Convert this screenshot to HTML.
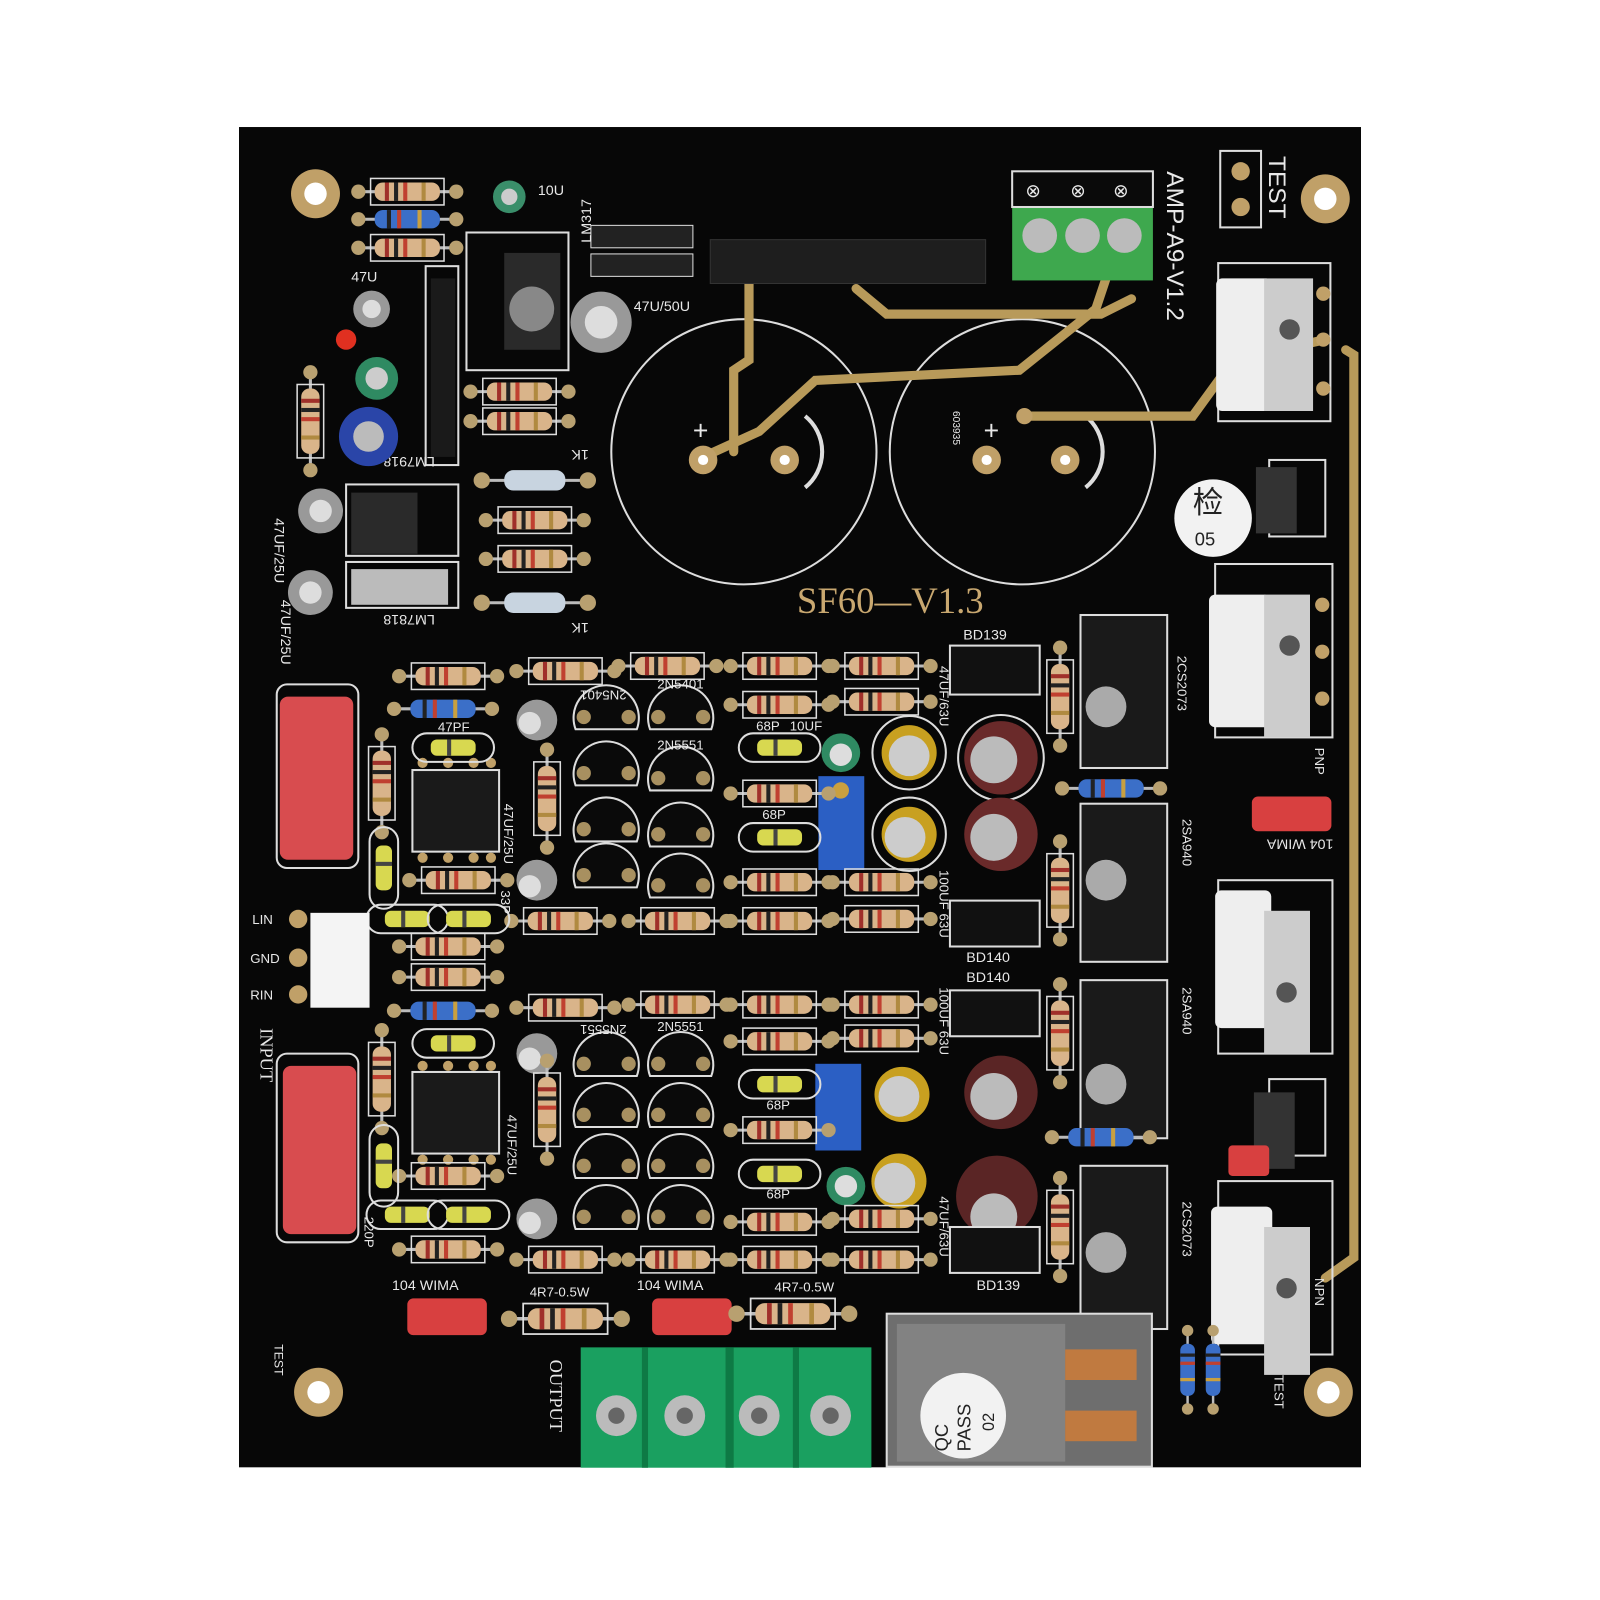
<!DOCTYPE html>
<html><head><meta charset="utf-8">
<style>
html,body{margin:0;padding:0;background:#fff;}
svg{display:block;}
text{font-family:"Liberation Sans",sans-serif;fill:#e8e8e8;}
</style></head>
<body>
<svg width="1600" height="1600" viewBox="0 0 1600 1600" xmlns="http://www.w3.org/2000/svg">
<defs>
  <g id="res">
    <line x1="-48" y1="0" x2="48" y2="0" stroke="#bbb" stroke-width="3"/>
    <circle cx="-48" cy="0" r="7" fill="#b8a070"/><circle cx="48" cy="0" r="7" fill="#b8a070"/>
    <rect x="-32" y="-9" width="64" height="18" rx="8" fill="#d9b48a"/>
    <rect x="-22" y="-9" width="4" height="18" fill="#a0302a"/>
    <rect x="-13" y="-9" width="4" height="18" fill="#222"/>
    <rect x="-4" y="-9" width="4" height="18" fill="#c04030"/>
    <rect x="14" y="-9" width="4" height="18" fill="#b08a40"/>
    <rect x="-36" y="-13" width="72" height="26" fill="none" stroke="#ddd" stroke-width="1.5"/>
  </g>
  <g id="resb">
    <line x1="-48" y1="0" x2="48" y2="0" stroke="#bbb" stroke-width="3"/>
    <circle cx="-48" cy="0" r="7" fill="#b8a070"/><circle cx="48" cy="0" r="7" fill="#b8a070"/>
    <rect x="-32" y="-9" width="64" height="18" rx="8" fill="#3b6fc8"/>
    <rect x="-20" y="-9" width="4" height="18" fill="#222"/>
    <rect x="-10" y="-9" width="4" height="18" fill="#c04030"/>
    <rect x="10" y="-9" width="4" height="18" fill="#c9a040"/>
  </g>
  <g id="resw">
    <line x1="-50" y1="0" x2="50" y2="0" stroke="#bbb" stroke-width="3"/>
    <circle cx="-52" cy="0" r="8" fill="#b8a070"/><circle cx="52" cy="0" r="8" fill="#b8a070"/>
    <rect x="-30" y="-10" width="60" height="20" rx="9" fill="#c8d4e0"/>
  </g>
  <g id="cer">
    <rect x="-40" y="-14" width="80" height="28" rx="14" fill="none" stroke="#ddd" stroke-width="2"/>
    <rect x="-22" y="-8" width="44" height="16" rx="6" fill="#d8d850"/>
    <rect x="-6" y="-8" width="4" height="16" fill="#444"/>
  </g>
  <g id="to92">
    <path d="M-30 12 A32 32 0 1 1 30 12 Z" fill="#0a0a0a" stroke="#ddd" stroke-width="2"/>
    <circle cx="-22" cy="0" r="7" fill="#a89060"/><circle cx="22" cy="0" r="7" fill="#a89060"/>
  </g>
  <g id="hole">
    <circle r="24" fill="#c0a068"/><circle r="11" fill="#fff"/>
  </g>
</defs>

<rect width="1600" height="1600" fill="#fff"/>
<g transform="matrix(1.02 0 0 1.02 -0.7 3)">
<!-- board -->
<rect x="235" y="121.6" width="1100" height="1314" fill="#070707"/>

<use href="#hole" x="310" y="187"/>
<use href="#hole" x="1300" y="192"/>
<use href="#hole" x="313" y="1362"/>
<use href="#hole" x="1303" y="1362"/>

<!-- big cap outlines -->
<circle cx="730" cy="440" r="130" fill="none" stroke="#ddd" stroke-width="2"/>
<circle cx="1003" cy="440" r="130" fill="none" stroke="#ddd" stroke-width="2"/>
<path d="M790 405 A45 45 0 0 1 790 475" fill="none" stroke="#ddd" stroke-width="4"/>
<path d="M1065 405 A45 45 0 0 1 1065 475" fill="none" stroke="#ddd" stroke-width="4"/>
<text x="965" y="428" font-size="26">+</text>
<text x="680" y="428" font-size="26">+</text>

<!-- gold traces -->
<g stroke="#b89a5a" stroke-width="9" fill="none" stroke-linecap="round">
  <path d="M735 275 V350 L720 360 V440"/>
  <path d="M690 445 L745 420 L800 370 L1000 360 L1075 300 L1085 270"/>
  <path d="M840 280 L870 305 L1080 305 L1110 290"/>
  <path d="M1005 405 L1170 405 L1210 350 L1300 330"/>
  <path d="M1320 340 L1328 345 V1230 L1300 1250"/>
</g>
<circle cx="690" cy="448" r="14" fill="#c0a068"/><circle cx="690" cy="448" r="5" fill="#fff"/>
<circle cx="770" cy="448" r="14" fill="#c0a068"/><circle cx="770" cy="448" r="5" fill="#fff"/>
<circle cx="968" cy="448" r="14" fill="#c0a068"/><circle cx="968" cy="448" r="5" fill="#fff"/>
<circle cx="1045" cy="448" r="14" fill="#c0a068"/><circle cx="1045" cy="448" r="5" fill="#fff"/>
<circle cx="1005" cy="405" r="8" fill="#c0a068"/>

<!-- heatsink bar -->
<rect x="697" y="232" width="270" height="43" fill="#1e1e1e" stroke="#333"/>
<!-- green terminal top -->
<rect x="993" y="200" width="138" height="72" fill="#3ea84e"/>
<rect x="993" y="165" width="138" height="35" fill="#0a0a0a" stroke="#ddd" stroke-width="2"/>
<circle cx="1020" cy="228" r="17" fill="#bbb"/><circle cx="1062" cy="228" r="17" fill="#bbb"/><circle cx="1103" cy="228" r="17" fill="#bbb"/>
<text x="1006" y="190" font-size="18">⊗</text><text x="1050" y="190" font-size="18">⊗</text><text x="1092" y="190" font-size="18">⊗</text>

<!-- TEST top right -->
<rect x="1197" y="145" width="40" height="75" fill="none" stroke="#ddd" stroke-width="2"/>
<circle cx="1217" cy="165" r="9" fill="#c0a068"/><circle cx="1217" cy="200" r="9" fill="#c0a068"/>
<text font-size="24" transform="translate(1245,150) rotate(90)">TEST</text>
<text font-size="24" transform="translate(1145,165) rotate(90)">AMP-A9-V1.2</text>

<!-- power transistors right -->
<g>
  <rect x="1195" y="255" width="110" height="155" fill="none" stroke="#ddd" stroke-width="2"/>
  <rect x="1193" y="270" width="55" height="130" rx="6" fill="#eee"/>
  <rect x="1240" y="270" width="48" height="130" fill="#ccc"/>
  <circle cx="1265" cy="320" r="10" fill="#555"/>
  <circle cx="1298" cy="285" r="7" fill="#c0a068"/><circle cx="1298" cy="330" r="7" fill="#c0a068"/><circle cx="1298" cy="378" r="7" fill="#c0a068"/>
</g>
<g>
  <rect x="1192" y="550" width="115" height="170" fill="none" stroke="#ddd" stroke-width="2"/>
  <rect x="1186" y="580" width="60" height="130" rx="6" fill="#eee"/>
  <rect x="1240" y="580" width="45" height="140" fill="#ccc"/>
  <circle cx="1265" cy="630" r="10" fill="#555"/>
  <circle cx="1297" cy="590" r="7" fill="#c0a068"/><circle cx="1297" cy="636" r="7" fill="#c0a068"/><circle cx="1297" cy="682" r="7" fill="#c0a068"/>
</g>
<g>
  <rect x="1195" y="860" width="112" height="170" fill="none" stroke="#ddd" stroke-width="2"/>
  <rect x="1192" y="870" width="55" height="135" rx="6" fill="#eee"/>
  <rect x="1240" y="890" width="45" height="140" fill="#ccc"/>
  <circle cx="1262" cy="970" r="10" fill="#555"/>
</g>
<g>
  <rect x="1195" y="1155" width="112" height="170" fill="none" stroke="#ddd" stroke-width="2"/>
  <rect x="1188" y="1180" width="60" height="135" rx="6" fill="#eee"/>
  <rect x="1240" y="1200" width="45" height="145" fill="#ccc"/>
  <circle cx="1262" cy="1260" r="10" fill="#555"/>
</g>
<!-- small TO-126 right -->
<rect x="1245" y="448" width="55" height="75" fill="none" stroke="#ddd" stroke-width="2"/>
<rect x="1232" y="455" width="40" height="65" fill="#333"/>
<rect x="1245" y="1055" width="55" height="75" fill="none" stroke="#ddd" stroke-width="2"/>
<rect x="1230" y="1068" width="40" height="75" fill="#333"/>
<!-- inspection sticker -->
<circle cx="1190" cy="505" r="38" fill="#f2f2f2"/>
<text x="1170" y="500" font-size="30" style="fill:#222;font-family:'Noto Sans CJK SC',sans-serif">检</text>
<text x="1172" y="532" font-size="18" style="fill:#222">05</text>

<text x="782" y="598" font-size="36" style="fill:#c9a870;font-family:'Liberation Serif',serif">SF60—V1.3</text>

<!-- red WIMA caps -->
<rect x="272" y="668" width="80" height="180" rx="10" fill="none" stroke="#ddd" stroke-width="2"/>
<rect x="275" y="680" width="72" height="160" rx="8" fill="#d84c4f"/>
<rect x="272" y="1030" width="80" height="185" rx="10" fill="none" stroke="#ddd" stroke-width="2"/>
<rect x="278" y="1042" width="72" height="165" rx="8" fill="#d84c4f"/>
<rect x="400" y="1270" width="78" height="36" rx="6" fill="#d84040"/>
<rect x="640" y="1270" width="78" height="36" rx="6" fill="#d84040"/>
<rect x="1228" y="778" width="78" height="34" rx="6" fill="#d84040"/>
<rect x="1205" y="1120" width="40" height="30" rx="4" fill="#d84040"/>
<text x="385" y="1262" font-size="14">104 WIMA</text>
<text x="625" y="1262" font-size="14">104 WIMA</text>
<text x="1228" y="832" font-size="14" transform="rotate(180 1268 826)">104 WIMA</text>

<!-- regulators top-left -->
<rect x="418" y="258" width="32" height="195" fill="none" stroke="#ddd" stroke-width="2"/>
<rect x="423" y="270" width="24" height="175" fill="#1a1a1a"/>
<rect x="458" y="225" width="100" height="135" fill="none" stroke="#ddd" stroke-width="2"/>
<rect x="495" y="245" width="55" height="95" fill="#2a2a2a"/>
<circle cx="522" cy="300" r="22" fill="#888"/>
<rect x="340" y="472" width="110" height="70" fill="none" stroke="#ddd" stroke-width="2"/>
<rect x="345" y="480" width="65" height="60" fill="#2a2a2a"/>
<rect x="340" y="548" width="110" height="45" fill="none" stroke="#ddd" stroke-width="2"/>
<rect x="345" y="555" width="95" height="35" fill="#bbb"/>
<rect x="580" y="218" width="100" height="22" fill="#222" stroke="#ddd"/>
<rect x="580" y="246" width="100" height="22" fill="#222" stroke="#ddd"/>
<text x="367" y="455" font-size="14" transform="rotate(180 397 450)">LM7918</text>
<text x="367" y="610" font-size="14" transform="rotate(180 397 605)">LM7818</text>
<text x="528" y="188" font-size="14">10U</text>
<text x="622" y="302" font-size="14">47U/50U</text>
<text x="558" y="448" font-size="14" transform="rotate(180 568 443)">1K</text>
<text x="558" y="618" font-size="14" transform="rotate(180 568 613)">1K</text>
<text font-size="14" transform="translate(580,235) rotate(-90)">LM317</text>
<text font-size="14" transform="translate(270,505) rotate(90)">47UF/25U</text>
<text font-size="14" transform="translate(276,585) rotate(90)">47UF/25U</text>
<text x="345" y="273" font-size="14">47U</text>
<circle cx="340" cy="330" r="10" fill="#e03020"/>

<!-- electrolytic caps -->
<g>
<circle cx="500" cy="190" r="16" fill="#3a8e6a"/><circle cx="500" cy="190" r="8" fill="#ccc"/>
<circle cx="365" cy="300" r="18" fill="#999"/><circle cx="365" cy="300" r="9" fill="#ddd"/>
<circle cx="370" cy="368" r="21" fill="#2f8a62"/><circle cx="370" cy="368" r="11" fill="#ccc"/>
<circle cx="362" cy="425" r="29" fill="#2a45a8"/><circle cx="362" cy="425" r="15" fill="#bbb"/>
<circle cx="315" cy="498" r="22" fill="#999"/><circle cx="315" cy="498" r="11" fill="#ddd"/>
<circle cx="305" cy="578" r="22" fill="#999"/><circle cx="305" cy="578" r="11" fill="#ddd"/>
<circle cx="590" cy="313" r="30" fill="#999"/><circle cx="590" cy="313" r="16" fill="#ddd"/>
<circle cx="527" cy="703" r="20" fill="#999"/><circle cx="520" cy="706" r="11" fill="#ddd"/>
<circle cx="527" cy="860" r="20" fill="#999"/><circle cx="520" cy="866" r="11" fill="#ddd"/>
<circle cx="527" cy="1030" r="20" fill="#999"/><circle cx="520" cy="1035" r="11" fill="#ddd"/>
<circle cx="527" cy="1192" r="20" fill="#999"/><circle cx="520" cy="1196" r="11" fill="#ddd"/>
<circle cx="825" cy="735" r="19" fill="#2f8a62"/><circle cx="825" cy="737" r="11" fill="#ddd"/>
<circle cx="830" cy="1160" r="19" fill="#2f8a62"/><circle cx="830" cy="1160" r="11" fill="#ddd"/>
<circle cx="892" cy="735" r="36" fill="none" stroke="#ddd" stroke-width="2"/>
<circle cx="892" cy="735" r="27" fill="#c8a020"/><circle cx="892" cy="738" r="20" fill="#ccc"/>
<circle cx="892" cy="815" r="36" fill="none" stroke="#ddd" stroke-width="2"/>
<circle cx="892" cy="815" r="27" fill="#c8a020"/><circle cx="888" cy="818" r="20" fill="#ccc"/>
<circle cx="885" cy="1070" r="27" fill="#c8a020"/><circle cx="882" cy="1072" r="20" fill="#ccc"/>
<circle cx="882" cy="1155" r="27" fill="#c8a020"/><circle cx="878" cy="1157" r="20" fill="#ccc"/>
<circle cx="982" cy="740" r="42" fill="none" stroke="#ddd" stroke-width="2"/>
<circle cx="982" cy="740" r="36" fill="#6a2a2a"/><circle cx="975" cy="742" r="23" fill="#bbb"/>
<circle cx="982" cy="815" r="36" fill="#6a2a2a"/><circle cx="975" cy="818" r="23" fill="#bbb"/>
<circle cx="982" cy="1068" r="36" fill="#5a2525"/><circle cx="975" cy="1072" r="23" fill="#bbb"/>
<circle cx="978" cy="1170" r="40" fill="#5a2525"/><circle cx="975" cy="1190" r="23" fill="#bbb"/>
</g>
<!-- trimmers -->
<rect x="803" y="758" width="45" height="92" fill="#2b5fc4"/>
<circle cx="825" cy="772" r="8" fill="#c9a040"/>
<rect x="800" y="1040" width="45" height="85" fill="#2b5fc4"/>

<!-- ICs -->
<rect x="405" y="752" width="85" height="80" fill="#1a1a1a" stroke="#ddd" stroke-width="2"/>
<rect x="405" y="1048" width="85" height="80" fill="#1a1a1a" stroke="#ddd" stroke-width="2"/>
<g fill="#c0a068">
<circle cx="415" cy="745" r="5"/><circle cx="440" cy="745" r="5"/><circle cx="465" cy="745" r="5"/><circle cx="482" cy="745" r="5"/>
<circle cx="415" cy="838" r="5"/><circle cx="440" cy="838" r="5"/><circle cx="465" cy="838" r="5"/><circle cx="482" cy="838" r="5"/>
<circle cx="415" cy="1042" r="5"/><circle cx="440" cy="1042" r="5"/><circle cx="465" cy="1042" r="5"/><circle cx="482" cy="1042" r="5"/>
<circle cx="415" cy="1134" r="5"/><circle cx="440" cy="1134" r="5"/><circle cx="465" cy="1134" r="5"/><circle cx="482" cy="1134" r="5"/>
</g>

<!-- TO-92 transistors -->
<use href="#to92" x="595" y="700"/><use href="#to92" x="668" y="700"/>
<use href="#to92" x="595" y="755"/><use href="#to92" x="668" y="760"/>
<use href="#to92" x="595" y="810"/><use href="#to92" x="668" y="815"/>
<use href="#to92" x="595" y="855"/><use href="#to92" x="668" y="865"/>
<use href="#to92" x="595" y="1040"/><use href="#to92" x="668" y="1040"/>
<use href="#to92" x="595" y="1090"/><use href="#to92" x="668" y="1090"/>
<use href="#to92" x="595" y="1140"/><use href="#to92" x="668" y="1140"/>
<use href="#to92" x="595" y="1190"/><use href="#to92" x="668" y="1190"/>

<!-- driver transistors with heatsinks -->
<g fill="#1a1a1a" stroke="#ddd" stroke-width="2">
<rect x="1060" y="600" width="85" height="150"/>
<rect x="1060" y="785" width="85" height="155"/>
<rect x="1060" y="958" width="85" height="155"/>
<rect x="1060" y="1140" width="85" height="160"/>
</g>
<circle cx="1085" cy="690" r="20" fill="#aaa"/><circle cx="1085" cy="860" r="20" fill="#aaa"/>
<circle cx="1085" cy="1060" r="20" fill="#aaa"/><circle cx="1085" cy="1225" r="20" fill="#aaa"/>
<rect x="932" y="630" width="88" height="48" fill="#111" stroke="#ddd" stroke-width="2"/>
<rect x="932" y="880" width="88" height="45" fill="#111" stroke="#ddd" stroke-width="2"/>
<rect x="932" y="968" width="88" height="45" fill="#111" stroke="#ddd" stroke-width="2"/>
<rect x="932" y="1200" width="88" height="45" fill="#111" stroke="#ddd" stroke-width="2"/>
<text x="945" y="624" font-size="14">BD139</text>
<text x="948" y="940" font-size="14">BD140</text>
<text x="948" y="960" font-size="14">BD140</text>
<text x="958" y="1262" font-size="14">BD139</text>

<!-- resistors -->
<use href="#res" x="400" y="185"/><use href="#resb" x="400" y="212"/><use href="#res" x="400" y="240"/>
<use href="#res" x="510" y="381"/><use href="#res" x="510" y="410"/>
<use href="#resw" x="525" y="468"/><use href="#res" x="525" y="507"/><use href="#res" x="525" y="545"/><use href="#resw" x="525" y="588"/>
<use href="#res" x="440" y="660"/><use href="#res" x="555" y="655"/><use href="#res" x="655" y="650"/><use href="#res" x="765" y="650"/><use href="#res" x="865" y="650"/>
<use href="#resb" x="435" y="692"/><use href="#res" x="765" y="688"/><use href="#res" x="865" y="685"/>
<use href="#res" x="765" y="775"/>
<use href="#res" x="450" y="860"/><use href="#res" x="765" y="862"/><use href="#res" x="865" y="862"/>
<use href="#res" x="550" y="900"/><use href="#res" x="665" y="900"/><use href="#res" x="765" y="900"/><use href="#res" x="865" y="898"/>
<use href="#res" x="440" y="925"/><use href="#res" x="440" y="955"/>
<use href="#resb" x="435" y="988"/>
<use href="#res" x="555" y="985"/><use href="#res" x="665" y="982"/><use href="#res" x="765" y="982"/><use href="#res" x="865" y="982"/>
<use href="#res" x="765" y="1018"/><use href="#res" x="865" y="1015"/>
<use href="#res" x="765" y="1105"/>
<use href="#res" x="440" y="1150"/>
<use href="#res" x="765" y="1195"/><use href="#res" x="865" y="1192"/>
<use href="#res" x="440" y="1222"/>
<use href="#res" x="555" y="1232"/><use href="#res" x="665" y="1232"/><use href="#res" x="765" y="1232"/><use href="#res" x="865" y="1232"/>
<use href="#res" transform="translate(555,1290) scale(1.15)"/>
<use href="#res" transform="translate(778,1285) scale(1.15)"/>
<use href="#resb" x="1090" y="770"/><use href="#resb" x="1080" y="1112"/>
<use href="#res" transform="translate(375,765) rotate(90)"/>
<use href="#res" transform="translate(375,1055) rotate(90)"/>
<use href="#res" transform="translate(537,780) rotate(90)"/>
<use href="#res" transform="translate(537,1085) rotate(90)"/>
<use href="#res" transform="translate(305,410) rotate(90)"/>
<use href="#res" transform="translate(1040,680) rotate(90)"/>
<use href="#res" transform="translate(1040,870) rotate(90)"/>
<use href="#res" transform="translate(1040,1010) rotate(90)"/>
<use href="#res" transform="translate(1040,1200) rotate(90)"/>
<use href="#resb" transform="translate(1165,1340) rotate(90) scale(0.8)"/>
<use href="#resb" transform="translate(1190,1340) rotate(90) scale(0.8)"/>
<!-- ceramic caps -->
<use href="#cer" x="445" y="730"/><use href="#cer" x="445" y="1020"/>
<use href="#cer" x="765" y="730"/><use href="#cer" x="765" y="818"/>
<use href="#cer" x="765" y="1060"/><use href="#cer" x="765" y="1148"/>
<use href="#cer" x="400" y="898"/><use href="#cer" x="460" y="898"/>
<use href="#cer" x="400" y="1188"/><use href="#cer" x="460" y="1188"/>
<use href="#cer" transform="translate(377,848) rotate(90)"/>
<use href="#cer" transform="translate(377,1140) rotate(90)"/>

<!-- input connector -->
<rect x="305" y="892" width="58" height="93" fill="#f4f4f4"/>
<circle cx="293" cy="898" r="9" fill="#c0a068"/><circle cx="293" cy="936" r="9" fill="#c0a068"/><circle cx="293" cy="972" r="9" fill="#c0a068"/>
<text x="248" y="903" font-size="13">LIN</text>
<text x="246" y="941" font-size="13">GND</text>
<text x="246" y="977" font-size="13">RIN</text>
<text font-size="18" transform="translate(256,1005) rotate(90)" style="font-family:'Liberation Serif',serif">INPUT</text>
<text font-size="12" transform="translate(270,1315) rotate(90)">TEST</text>

<!-- labels -->
<g font-size="13">
<text x="645" y="672">2N5401</text><text x="645" y="732">2N5551</text><text x="565" y="682" transform="rotate(180 590 678)">2N5401</text>
<text x="645" y="1008">2N5551</text><text x="565" y="1010" transform="rotate(180 590 1006)">2N5551</text>
<text x="742" y="713">68P</text><text x="775" y="713">10UF</text><text x="748" y="800">68P</text>
<text x="752" y="1085">68P</text><text x="752" y="1172">68P</text>
<text x="430" y="714">47PF</text>
<text x="520" y="1268">4R7-0.5W</text><text x="760" y="1263">4R7-0.5W</text>
</g>
<g font-size="13">
<text transform="translate(922,650) rotate(90)">47UF/63U</text>
<text transform="translate(922,850) rotate(90)">100UF 63U</text>
<text transform="translate(922,965) rotate(90)">100UF 63U</text>
<text transform="translate(922,1170) rotate(90)">47UF/63U</text>
<text transform="translate(1155,640) rotate(90)">2CS2073</text>
<text transform="translate(1160,800) rotate(90)">2SA940</text>
<text transform="translate(1160,965) rotate(90)">2SA940</text>
<text transform="translate(1160,1175) rotate(90)">2CS2073</text>
<text transform="translate(1290,730) rotate(90)">PNP</text>
<text transform="translate(1290,1250) rotate(90)">NPN</text>
<text transform="translate(1250,1345) rotate(90)">TEST</text>
<text transform="translate(492,870) rotate(90)">33P</text>
<text transform="translate(358,1190) rotate(90)">220P</text>
<text transform="translate(495,785) rotate(90)">47UF/25U</text>
<text transform="translate(498,1090) rotate(90)">47UF/25U</text>
<text transform="translate(935,400) rotate(90)" font-size="10">603935</text>
</g>

<!-- output terminals -->
<rect x="570" y="1318" width="285" height="118" fill="#1aa060"/>
<g fill="#0e7a45"><rect x="630" y="1318" width="6" height="118"/><rect x="712" y="1318" width="8" height="118"/><rect x="778" y="1318" width="6" height="118"/></g>
<g fill="#bbb"><circle cx="605" cy="1385" r="20"/><circle cx="672" cy="1385" r="20"/><circle cx="745" cy="1385" r="20"/><circle cx="815" cy="1385" r="20"/></g>
<g fill="#666"><circle cx="605" cy="1385" r="8"/><circle cx="672" cy="1385" r="8"/><circle cx="745" cy="1385" r="8"/><circle cx="815" cy="1385" r="8"/></g>
<text font-size="18" transform="translate(540,1330) rotate(90)" style="font-family:'Liberation Serif',serif">OUTPUT</text>

<!-- relay -->
<rect x="870" y="1285" width="260" height="150" fill="#6e6e6e" stroke="#ddd" stroke-width="2"/>
<rect x="880" y="1295" width="165" height="135" fill="#8a8a8a" opacity="0.7"/>
<rect x="1045" y="1320" width="70" height="30" fill="#c07a40"/>
<rect x="1045" y="1380" width="70" height="30" fill="#c07a40"/>
<circle cx="945" cy="1385" r="42" fill="#f2f2f2"/>
<text font-size="18" transform="translate(930,1420) rotate(-90)" style="fill:#222">QC</text>
<text font-size="18" transform="translate(952,1420) rotate(-90)" style="fill:#222">PASS</text>
<text font-size="16" transform="translate(975,1400) rotate(-90)" style="fill:#222">02</text>
</g>
</svg>
</body></html>
